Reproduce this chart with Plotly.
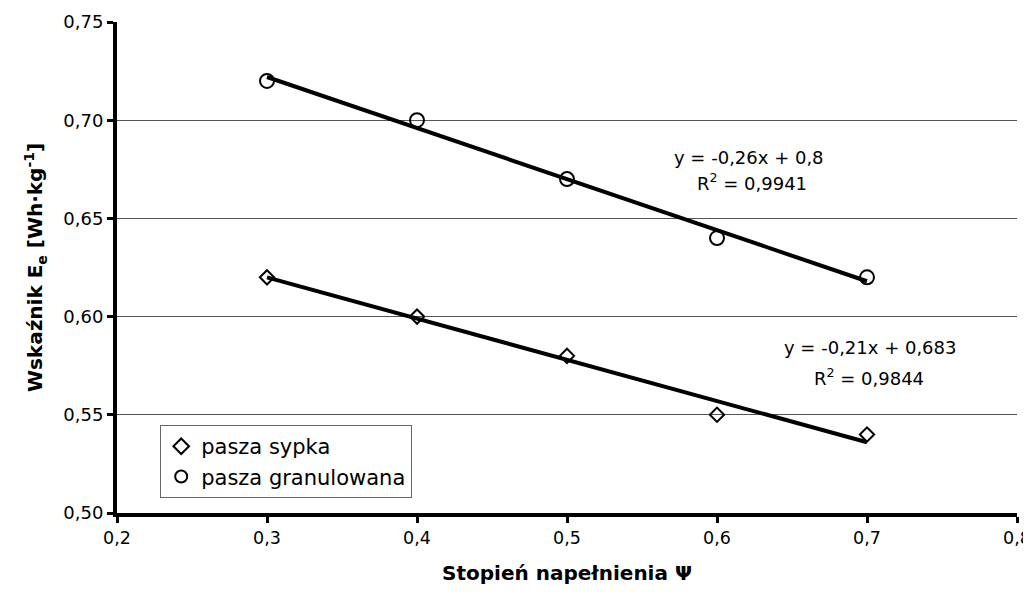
import plotly.graph_objects as go

x_vals = [0.3, 0.4, 0.5, 0.6, 0.7]
sypka = [0.62, 0.60, 0.58, 0.55, 0.54]
granulowana = [0.72, 0.70, 0.67, 0.64, 0.62]
trend_sypka = (-0.21, 0.683)
trend_gran = (-0.26, 0.80)
x_ticks = [0.2, 0.3, 0.4, 0.5, 0.6, 0.7, 0.8]
y_ticks = [0.50, 0.55, 0.60, 0.65, 0.70, 0.75]

font_family = "DejaVu Sans, sans-serif"

fig = go.Figure()
tx = [x_vals[0], x_vals[-1]]
fig.add_trace(go.Scatter(x=tx, y=[trend_gran[0]*v + trend_gran[1] for v in tx], mode="lines",
                         line=dict(color="black", width=4), showlegend=False, hoverinfo="skip"))
fig.add_trace(go.Scatter(x=tx, y=[trend_sypka[0]*v + trend_sypka[1] for v in tx], mode="lines",
                         line=dict(color="black", width=4), showlegend=False, hoverinfo="skip"))
fig.add_trace(go.Scatter(x=x_vals, y=sypka, mode="markers", name="pasza sypka",
                         marker=dict(symbol="diamond-open", size=11, color="black", line=dict(width=2))))
fig.add_trace(go.Scatter(x=x_vals, y=granulowana, mode="markers", name="pasza granulowana",
                         marker=dict(symbol="circle-open", size=14, color="black", line=dict(width=2))))

ann_font = dict(size=18, color="black", family=font_family)
fig.add_annotation(x=0.621, y=0.681, xref="x", yref="y", text="y = -0,26x + 0,8", showarrow=False, font=ann_font)
fig.add_annotation(x=0.623, y=0.6685, xref="x", yref="y", text="R<sup>2</sup> = 0,9941", showarrow=False, font=ann_font)
fig.add_annotation(x=0.702, y=0.5845, xref="x", yref="y", text="y = -0,21x + 0,683", showarrow=False, font=ann_font)
fig.add_annotation(x=0.701, y=0.5693, xref="x", yref="y", text="R<sup>2</sup> = 0,9844", showarrow=False, font=ann_font)

fig.update_layout(
    width=1023, height=584,
    margin=dict(l=109, r=14, t=14, b=79, autoexpand=False),
    paper_bgcolor="white", plot_bgcolor="white",
    separators=",.",
    font=dict(family=font_family, size=18, color="black"),
    legend=dict(x=0.048, y=0.179, xanchor="left", yanchor="top",
                bordercolor="#666", borderwidth=1, bgcolor="white",
                font=dict(size=21), itemsizing="constant", tracegroupgap=0, itemwidth=30),
    xaxis=dict(range=[0.2, 0.8], tickvals=x_ticks, tickformat=".1f", tickfont=dict(size=17.5),
               showline=True, linecolor="black", linewidth=4,
               ticks="outside", ticklen=6, tickwidth=3, tickcolor="black",
               showgrid=False, zeroline=False, automargin=False, ticklabeloverflow="allow",
               title=dict(text="<b>Stopień napełnienia Ψ</b>", font=dict(size=20), standoff=20)),
    yaxis=dict(range=[0.50, 0.75], tickvals=y_ticks, tickformat=".2f",
               showline=True, linecolor="black", linewidth=4,
               ticks="outside", ticklen=6, tickwidth=3, tickcolor="black",
               showgrid=True, gridcolor="#555", gridwidth=1, zeroline=False, automargin=False,
               ticklabeloverflow="allow",
               title=dict(text="<b>Wskaźnik E<sub>e</sub> [Wh·kg<sup>-1</sup>]</b>", font=dict(size=20), standoff=16)),
)

fig.write_html("out.html")
